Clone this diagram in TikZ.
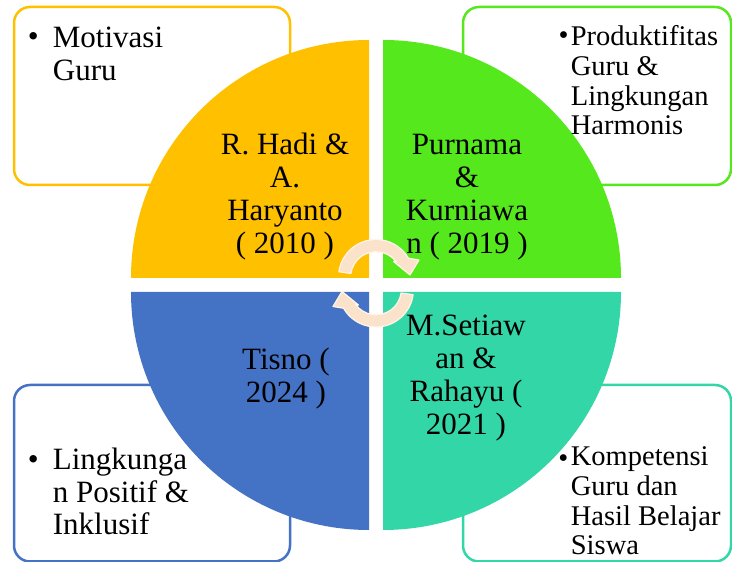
\documentclass[tikz,border=0pt]{standalone}
\usepackage{fontspec}
\setmainfont{Liberation Serif}
\definecolor{qgold}{HTML}{FFC000}
\definecolor{qgreen}{HTML}{55E81C}
\definecolor{qblue}{HTML}{4472C4}
\definecolor{qteal}{HTML}{33D6A6}
\definecolor{arrowfill}{HTML}{FBE2CB}
\definecolor{arrowedge}{HTML}{FFF4EA}

\begin{document}
\begin{tikzpicture}[x=1pt,y=1pt,
  notebox/.style n args={2}{rounded corners=16pt, line width=2.5pt, fill=white,
    minimum width=#1, minimum height=#2, inner sep=0pt},
  % multi-line labels are placed by the baseline of their last line
  quadtext/.style={font=\fontsize{31}{33}\selectfont, inner sep=0pt, align=center, anchor=base},
  notebig/.style={font=\fontsize{31}{32.7}\selectfont, inner sep=0pt, align=left, anchor=base west},
  notesmall/.style={font=\fontsize{28.5}{29.7}\selectfont, inner sep=0pt, align=left, anchor=base west},
  bulletbig/.style={font=\fontsize{31}{33}\selectfont, inner sep=0pt, anchor=base},
  bulletsmall/.style={font=\fontsize{28.5}{30}\selectfont, inner sep=0pt, anchor=base},
  cyclearrow/.pic={
    \filldraw[fill=arrowfill, draw=arrowedge, line width=1.2pt, line join=round]
      (172:37.5) arc[start angle=172, end angle=30, radius=37.5]
      -- (43,17) -- (34,2) -- (17.5,15.5) -- (36:25.3)
      arc[start angle=36, end angle=172, radius=25.3] -- cycle;
  }
]
\useasboundingbox (0,0) rectangle (732,562);

% note boxes behind the circle
\node[notebox={276pt}{178pt}, draw=qgold]   (boxA) at (152,466) {};
\node[notebox={268pt}{178pt}, draw=qgreen]  (boxB) at (597,466) {};
\node[notebox={276pt}{176.5pt}, draw=qblue] (boxC) at (152,88.75) {};
\node[notebox={268pt}{176.5pt}, draw=qteal] (boxD) at (597,88.75) {};

% four quarter discs
\fill[qgold]  (369,284) -- (131,284) arc[start angle=180, end angle=90,  radius=238] -- cycle;
\fill[qgreen] (383,284) -- (383,522) arc[start angle=90,  end angle=0,   radius=238] -- cycle;
\fill[qblue]  (369,270) -- (131,270) arc[start angle=180, end angle=270, radius=238] -- cycle;
\fill[qteal]  (383,270) -- (621,270) arc[start angle=0,   end angle=-90, radius=238] -- cycle;

% cycle arrows in the middle
\pic at (376,285) {cyclearrow};
\pic[rotate=180] at (376,272.5) {cyclearrow};

% quadrant labels
\node[quadtext] (hadi)     at (285,308)   {R. Hadi \&\\A.\\Haryanto\\( 2010 )};
\node[quadtext] (purnama)  at (467,308)   {Purnama\\\&\\Kurniawa\\n ( 2019 )};
\node[quadtext] (tisno)    at (286,159.3) {Tisno (\\2024 )};
\node[quadtext] (setiawan) at (466,127)   {M.Setiaw\\an \&\\Rahayu (\\2021 )};

% notes
\node[bulletbig] (dotA) at (33.3,515) {•};
\node[notebig] (motivasi) at (52.7,481.3) {Motivasi\\Guru};
\node[bulletsmall] (dotB) at (563.7,517.7) {•};
\node[notesmall] (produktif) at (570.7,427) {Produktifitas\\Guru \&\\Lingkungan\\Harmonis};
\node[bulletbig] (dotC) at (33.3,92) {•};
\node[notebig] (lingkungan) at (52.7,27) {Lingkunga\\n Positif \&\\Inklusif};
\node[bulletsmall] (dotD) at (563.3,94.3) {•};
\node[notesmall] (kompetensi) at (570.7,7) {Kompetensi\\Guru dan\\Hasil Belajar\\Siswa};
\end{tikzpicture}
\end{document}
